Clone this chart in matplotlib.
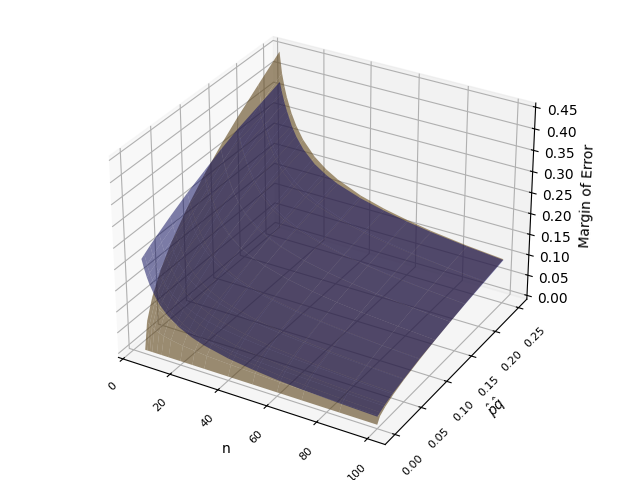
import numpy as np
import matplotlib
matplotlib.use("Agg")
from matplotlib import pyplot as plt

n_values = [5, 6, 7, 8, 10, 12, 15, 20, 25, 30, 40, 50, 60, 70, 85, 100]
pq_values = [0, .005, .015, .03, .05, .08, .11, .14, .17, .21, .25]

# gold surface, one row per n
gold_moe = [
    [0, .063, .109, .155, .200, .253, .297, .335, .369, .410, .450],
    [0, .057, .098, .139, .179, .226, .265, .299, .330, .367, .400],
    [0, .052, .091, .128, .166, .210, .246, .277, .305, .340, .370],
    [0, .049, .085, .120, .155, .196, .230, .259, .286, .318, .346],
    [0, .044, .076, .107, .139, .175, .206, .232, .256, .284, .310],
    [0, .040, .069, .098, .127, .160, .188, .212, .233, .259, .283],
    [0, .036, .062, .088, .113, .143, .168, .189, .209, .232, .253],
    [0, .031, .054, .076, .098, .124, .145, .164, .181, .201, .219],
    [0, .028, .048, .068, .088, .111, .130, .147, .162, .180, .196],
    [0, .025, .044, .062, .080, .101, .119, .134, .148, .164, .179],
    [0, .022, .038, .054, .069, .088, .103, .116, .128, .142, .155],
    [0, .020, .034, .048, .062, .078, .092, .104, .114, .127, .139],
    [0, .018, .031, .044, .057, .072, .084, .095, .104, .116, .127],
    [0, .017, .029, .041, .052, .066, .078, .088, .097, .107, .117],
    [0, .015, .026, .037, .048, .060, .071, .080, .088, .097, .106],
    [0, .014, .024, .034, .044, .055, .065, .073, .081, .090, .098],
]

# blue surface, one row per n
blue_moe = [
    [.217, .222, .232, .245, .262, .285, .305, .325, .342, .360, .378],
    [.195, .200, .210, .224, .240, .262, .283, .302, .320, .335, .352],
    [.177, .182, .192, .205, .222, .244, .264, .282, .298, .315, .330],
    [.162, .167, .176, .190, .206, .228, .248, .265, .281, .298, .312],
    [.139, .144, .153, .166, .180, .200, .218, .234, .248, .265, .280],
    [.121, .126, .134, .146, .160, .178, .195, .210, .224, .241, .256],
    [.102, .106, .113, .124, .138, .155, .171, .186, .200, .216, .230],
    [.081, .085, .092, .103, .115, .132, .146, .159, .172, .187, .201],
    [.067, .071, .079, .089, .101, .117, .131, .144, .155, .169, .182],
    [.057, .061, .069, .079, .091, .106, .120, .132, .143, .156, .168],
    [.044, .048, .056, .066, .077, .091, .104, .115, .125, .137, .148],
    [.036, .040, .048, .057, .068, .081, .093, .103, .112, .123, .134],
    [.030, .034, .042, .051, .061, .074, .084, .094, .103, .113, .123],
    [.026, .030, .038, .046, .056, .068, .078, .087, .095, .105, .114],
    [.022, .026, .033, .041, .050, .061, .071, .079, .087, .096, .104],
    [.019, .023, .030, .038, .046, .057, .065, .073, .080, .088, .096],
]

pq_grid, n_grid = np.meshgrid(pq_values, n_values)

fig = plt.figure(figsize=(6.4, 4.8), dpi=100)
ax = fig.add_subplot(projection="3d")
ax.plot_surface(n_grid, pq_grid, np.array(gold_moe), color="#e6a83c", alpha=0.6,
                rstride=1, cstride=1, linewidth=0)
ax.plot_surface(n_grid, pq_grid, np.array(blue_moe), color="mediumblue", alpha=0.5,
                rstride=1, cstride=1, linewidth=0)

ax.set_xlabel("n")
ax.set_ylabel(r"$\hat{p}\hat{q}$")
ax.set_zlabel("Margin of Error")
ax.tick_params(axis="x", labelsize=8, labelrotation=45)
ax.tick_params(axis="y", labelsize=8, labelrotation=45)

fig.tight_layout()
# the box sits a little larger than tight_layout leaves it, and slightly higher
pos = ax.get_position()
scale = 1.055
ax.set_position([pos.x0 - pos.width * (scale - 1) / 2,
                 pos.y0 - pos.height * (scale - 1) / 2 + 0.006,
                 pos.width * scale, pos.height * scale])
fig.savefig("out.png")
